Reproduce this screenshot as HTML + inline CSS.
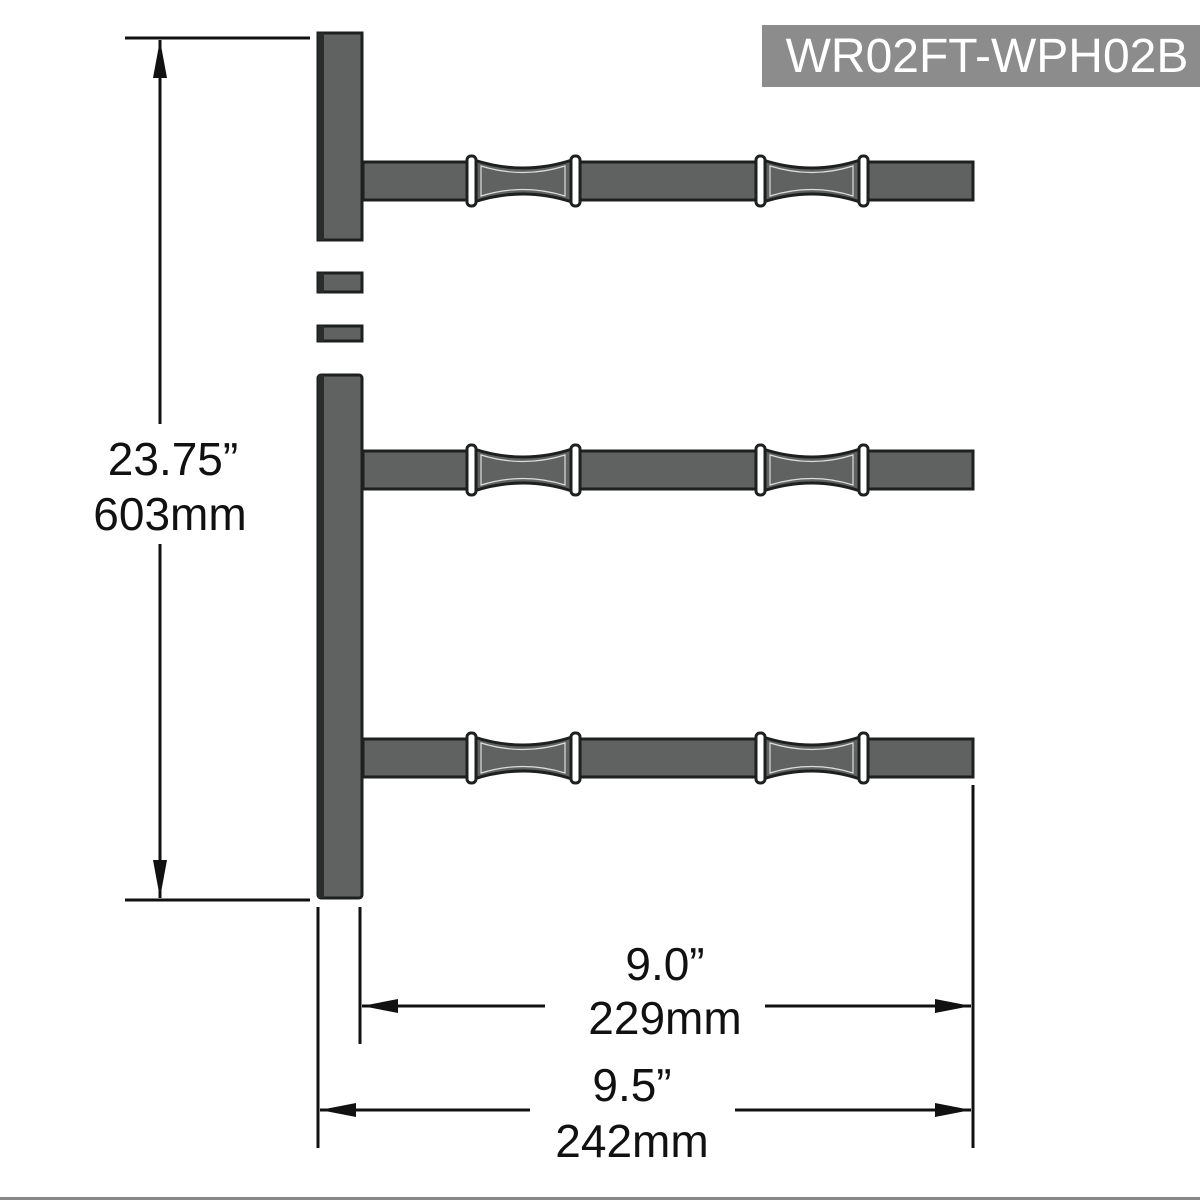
<!DOCTYPE html>
<html><head><style>html,body{margin:0;padding:0;background:#fff}svg{display:block}</style></head>
<body>
<svg width="1200" height="1200" viewBox="0 0 1200 1200" xmlns="http://www.w3.org/2000/svg">
<defs>
<g id="arm">
  <rect x="363" y="-19" width="610" height="38" fill="#5f6261" stroke="#1e2020" stroke-width="3"/>
  <rect x="470" y="-30" width="106" height="60" fill="#fff"/>
  <rect x="759" y="-30" width="106" height="60" fill="#fff"/>
  <path d="M474,-21 Q523,-5 572,-21 L572,21 Q523,5 474,21 Z" fill="#5f6261" stroke="#1e2020" stroke-width="3"/>
  <path d="M481,-15 Q523,-2 565,-15 L565,15 Q523,2 481,15 Z" fill="none" stroke="#ddd" stroke-width="1.2"/>
  <path d="M763,-21 Q812,-5 860,-21 L860,21 Q812,5 763,21 Z" fill="#5f6261" stroke="#1e2020" stroke-width="3"/>
  <path d="M770,-15 Q812,-2 853,-15 L853,15 Q812,2 770,15 Z" fill="none" stroke="#ddd" stroke-width="1.2"/>
  <rect x="467" y="-25" width="9" height="50" rx="4" fill="#fff" stroke="#1e2020" stroke-width="3"/>
  <rect x="571" y="-25" width="9" height="50" rx="4" fill="#fff" stroke="#1e2020" stroke-width="3"/>
  <rect x="756" y="-25" width="9" height="50" rx="4" fill="#fff" stroke="#1e2020" stroke-width="3"/>
  <rect x="859" y="-25" width="9" height="50" rx="4" fill="#fff" stroke="#1e2020" stroke-width="3"/>
</g>
</defs>
<rect x="762" y="25" width="438" height="62" fill="#8c8c8c"/>
<text x="987" y="72" text-anchor="middle" font-family="Liberation Sans, sans-serif" font-size="48" fill="#fff">WR02FT-WPH02B</text>

<g fill="#5f6261" stroke="#1e2020" stroke-width="3">
<rect x="318" y="33" width="44" height="207"/>
<rect x="318" y="273" width="44" height="19"/>
<rect x="318" y="326" width="44" height="15"/>
<rect x="318" y="375" width="44" height="523" rx="3"/>
</g>
<g fill="#2a2c2c">
<rect x="318" y="33" width="6" height="207"/><rect x="318" y="273" width="6" height="19"/><rect x="318" y="326" width="6" height="15"/><rect x="318" y="375" width="6" height="523"/>
</g>
<use href="#arm" transform="translate(0,181)"/>
<use href="#arm" transform="translate(0,470)"/>
<use href="#arm" transform="translate(0,758)"/>

<g stroke="#111" stroke-width="3" fill="none">
<line x1="125" y1="38" x2="310" y2="38"/>
<line x1="125" y1="900" x2="310" y2="900"/>
<line x1="160" y1="40" x2="160" y2="424"/>
<line x1="160" y1="544" x2="160" y2="898"/>
<line x1="318" y1="907" x2="318" y2="1148"/>
<line x1="360" y1="907" x2="360" y2="1044"/>
<line x1="973" y1="785" x2="973" y2="1148"/>
<line x1="362" y1="1006" x2="545" y2="1006"/>
<line x1="765" y1="1006" x2="971" y2="1006"/>
<line x1="320" y1="1110" x2="530" y2="1110"/>
<line x1="735" y1="1110" x2="971" y2="1110"/>
</g>
<g fill="#111">
<polygon points="160,40 153,78 167,78"/>
<polygon points="160,898 153,860 167,860"/>
<polygon points="362,1006 398,999 398,1013"/>
<polygon points="971,1006 935,999 935,1013"/>
<polygon points="320,1110 356,1103 356,1117"/>
<polygon points="971,1110 935,1103 935,1117"/>
</g>
<rect x="0" y="1197" width="1200" height="3" fill="#888"/>
<g font-family="Liberation Sans, sans-serif" font-size="46" fill="#111" text-anchor="middle">
<text x="173" y="475">23.75”</text>
<text x="170" y="530">603mm</text>
<text x="665" y="980">9.0”</text>
<text x="665" y="1034">229mm</text>
<text x="632" y="1101">9.5”</text>
<text x="632" y="1157">242mm</text>
</g>
</svg>
</body></html>
